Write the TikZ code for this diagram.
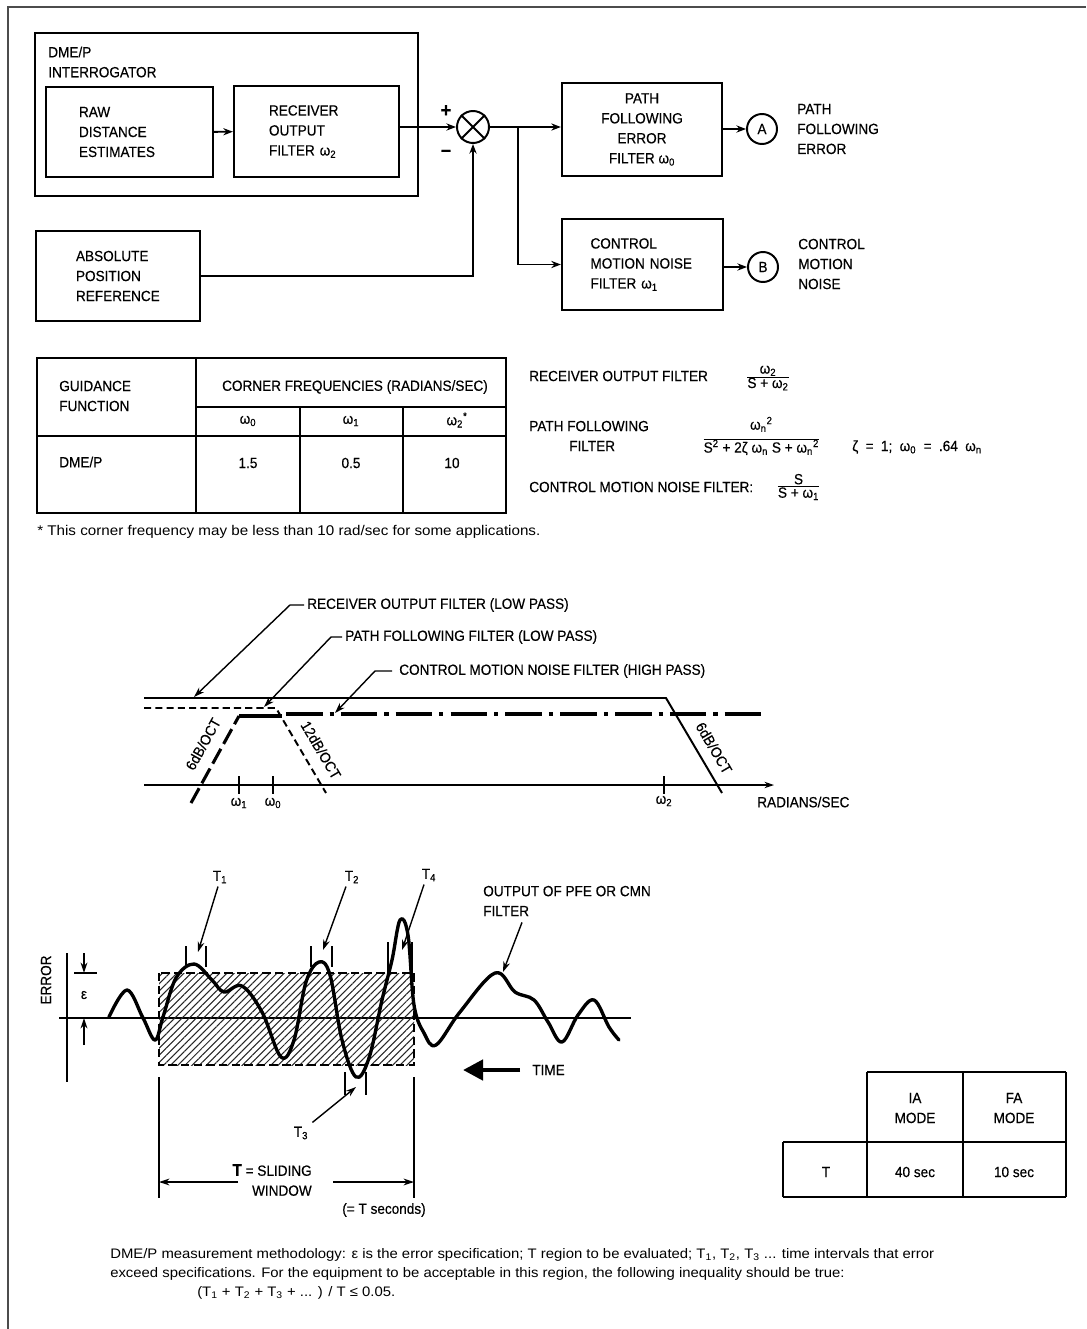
\documentclass[tikz,border=0pt]{standalone}
\usepackage{amsmath,amssymb}
\usepackage{xcolor}
\usepackage{fontspec}
\setmainfont{Liberation Sans}[FakeStretch=0.92,FakeBold=0.4]
\newfontfamily\notefont{Liberation Sans}[FakeStretch=1.08]
\usepackage{tikz}
\usetikzlibrary{arrows.meta,positioning,calc,patterns.meta}
\newlength{\pxu}
\setlength{\pxu}{0.025cm}

\begin{document}
\begin{tikzpicture}[
  x=0.025cm, y=-0.025cm,
  font=\fontsize{10.5}{14.2}\selectfont,
  block/.style={rectangle, draw, line width=1.6pt, inner sep=0pt, align=left},
  tag/.style={circle, draw, line width=1.4pt, minimum size=30\pxu, inner sep=0pt},
  txt/.style={inner sep=0pt, align=left},
  arrow/.style={-{Stealth[length=2.4mm,width=1.8mm]}, line width=1.4pt},
  lead/.style={-{Stealth[length=2.6mm,width=1.7mm]}, line width=1pt},
  grid/.style={line width=1.2pt},
  tick/.style={line width=1.2pt},
  wave/.style={line width=2.4pt, line join=round, line cap=round}
]
\useasboundingbox (0,0) rectangle (1086,1329);
\draw[black!70, line width=0.8pt] (8,1329) -- (8,7) -- (1086,7);

% Block diagram
\node[block, minimum width=383\pxu, minimum height=163\pxu] (dme) at (226.5,114.5) {};
\node[txt, anchor=west] (dmelbl) at (48,62) {DME/P\\INTERROGATOR};
\node[block, minimum width=167\pxu, minimum height=90\pxu, text width=101\pxu] (raw) at (129.5,132) {RAW\\DISTANCE\\ESTIMATES};
\node[block, minimum width=165\pxu, minimum height=91\pxu, text width=95\pxu] (recv) at (316.5,131.5) {RECEIVER\\OUTPUT\\FILTER ω\textsubscript{2}};
\node[block, minimum width=164\pxu, minimum height=90\pxu, text width=84\pxu] (apr) at (118,276) {ABSOLUTE\\POSITION\\REFERENCE};
\node[circle, draw, line width=1.4pt, minimum size=32\pxu, inner sep=0pt] (sum) at (473,127) {};
\draw[line width=1.4pt] (sum.north west) -- (sum.south east) (sum.north east) -- (sum.south west);
\node[txt, font=\bfseries\fontsize{14}{14}\selectfont] (plus) at (446,111) {+};
\node[txt, font=\bfseries\fontsize{14}{14}\selectfont] (minus) at (446,153) {–};
\node[block, align=center, minimum width=160\pxu, minimum height=93\pxu] (pfe) at (642,129.5) {PATH\\FOLLOWING\\ERROR\\FILTER ω\textsubscript{0}};
\node[block, minimum width=161\pxu, minimum height=91\pxu, text width=104\pxu] (cmn) at (642.5,264.5) {CONTROL\\MOTION NOISE\\FILTER ω\textsubscript{1}};
\node[tag] (outA) at (762,129) {A};
\node[tag] (outB) at (763,267) {B};
\node[txt, anchor=west] (pfelbl) at (797,129) {PATH\\FOLLOWING\\ERROR};
\node[txt, anchor=west] (cmnlbl) at (798,264) {CONTROL\\MOTION\\NOISE};

% Arrows
\coordinate (split) at (518,127);
\draw[arrow] (raw) -- (recv);
\draw[arrow] (recv.east |- sum) -- (sum);
\draw[arrow] (sum) -- (sum -| pfe.west);
\draw[arrow] (split) |- (cmn);
\draw[arrow] (apr) -| (sum);
\draw[arrow] (pfe.east |- outA) -- (outA);
\draw[arrow] (cmn.east |- outB) -- (outB);

% Corner frequency table
\draw[grid] (37,358) rectangle (506,513);
\draw[grid] (196,358) -- (196,513) (196,407) -- (506,407) (300,407) -- (300,513) (403,407) -- (403,513);
\draw[line width=1.8pt] (37,436) -- (506,436);
\node[txt, anchor=west] (gf) at (59,396) {GUIDANCE\\FUNCTION};
\node[txt] (cf) at (355,387) {CORNER FREQUENCIES (RADIANS/SEC)};
\node[txt] (w0h) at (248,421) {ω\textsubscript{0}};
\node[txt] (w1h) at (351,421) {ω\textsubscript{1}};
\node[txt] (w2h) at (457,420) {ω\textsubscript{2}\textsuperscript{*}};
\node[txt, anchor=west] (dmep) at (59,462) {DME/P};
\node[txt] (v0) at (248,463) {1.5};
\node[txt] (v1) at (351,463) {0.5};
\node[txt] (v2) at (452,463) {10};
\node[txt, anchor=west, font=\notefont\fontsize{10}{13}\selectfont] (star) at (37,532) {* This corner frequency may be less than 10 rad/sec for some applications.};

% Transfer functions
\node[txt, anchor=west] (rofname) at (529,376) {RECEIVER OUTPUT FILTER};
\node[txt] (roffrac) at (768,378) {$\frac{\mbox{ω\textsubscript{2}}}{\mbox{S + ω\textsubscript{2}}}$};
\node[txt, anchor=west] (pffname) at (529,436) {PATH FOLLOWING\\\hspace*{40\pxu}FILTER};
\node[txt, anchor=east] (pfffrac) at (821,436) {$\frac{\raisebox{5pt}{ω\textsubscript{n}\textsuperscript{2}}}{\raisebox{-3pt}{S\textsuperscript{2} + 2ζ ω\textsubscript{n} S + ω\textsubscript{n}\textsuperscript{2}}}$};
\node[txt, anchor=west] (zeta) at (852,447) {ζ\enspace=\enspace1;\enspace ω\textsubscript{0}\enspace=\enspace.64\enspace ω\textsubscript{n}};
\node[txt, anchor=west] (cmnname) at (529,487) {CONTROL MOTION NOISE FILTER:};
\node[txt, anchor=west] (cmnfrac) at (776,487) {$\frac{\mbox{S}}{\mbox{S + ω\textsubscript{1}}}$};

% Filter responses
\coordinate (ax0) at (144,785);
\coordinate (ax1) at (774,785);
\coordinate (rofpt) at (194,697);
\coordinate (pffpt) at (264,707);
\coordinate (cmnpt) at (335,713);
\draw[line width=1.4pt] (144,698) -- (666,698) -- (722,793);
\draw[line width=1.4pt, dash pattern=on 5pt off 3pt] (144,708) -- (276,708) -- (326,793);
\draw[line width=2.2pt, dash pattern=on 12pt off 4pt] (191,803) -- (239,716);
\draw[line width=2.2pt] (239,716) -- (282,716);
\draw[line width=2.2pt, dash pattern=on 26pt off 5pt on 3pt off 5pt] (286,714) -- (765,714);
\draw[-{Stealth[length=2.4mm,width=1.6mm]}, line width=1pt] (ax0) -- (ax1);
\foreach \tx in {239,273,664}
  \draw[tick] (\tx,776) -- (\tx,794);
\node[txt] (w1a) at (239,803) {ω\textsubscript{1}};
\node[txt] (w0a) at (273,803) {ω\textsubscript{0}};
\node[txt] (w2a) at (664,801) {ω\textsubscript{2}};
\node[txt, anchor=west] (radlbl) at (757,802) {RADIANS/SEC};
\node[txt, rotate=61] (slope1) at (203,744) {6dB/OCT};
\node[txt, rotate=-59.5] (slope2) at (321,750) {12dB/OCT};
\node[txt, rotate=-59.5] (slope3) at (714,748) {6dB/OCT};
\node[txt, anchor=west] (roflbl) at (307,605) {RECEIVER OUTPUT FILTER (LOW PASS)};
\node[txt, anchor=west] (pfflbl) at (345,637) {PATH FOLLOWING FILTER (LOW PASS)};
\node[txt, anchor=west] (cmnlbl2) at (399,671) {CONTROL MOTION NOISE FILTER (HIGH PASS)};
\draw[lead] (roflbl.west) ++(-3,0) -- ++(-14,0) -- (rofpt);
\draw[lead] (pfflbl.west) ++(-3,0) -- ++(-11,0) -- (pffpt);
\draw[lead] (cmnlbl2.west) ++(-7,0) -- ++(-17,0) -- (cmnpt);

% Error measurement
\node[txt, rotate=90] (errlbl) at (46,980) {ERROR};
\draw[line width=1.5pt] (67,953) -- (67,1082);
\draw[line width=1.2pt] (59,1018) -- (631,1018);
\draw[line width=1.2pt] (74,973) -- (97,973);
\coordinate (epstop) at (84,973);
\coordinate (epsbot) at (84,1018);
\draw[lead] (84,953) -- (epstop);
\draw[lead] (84,1045) -- (epsbot);
\node[txt] (eps) at (84,995) {ε};
\fill[pattern={Lines[angle=45,distance=3.6pt,line width=0.75pt]}, pattern color=black!85] (159,973) rectangle (414,1065);
\draw[line width=1.8pt, dash pattern=on 6pt off 3pt] (159,973) rectangle (414,1065);
\draw[wave] plot[smooth, tension=0.6] coordinates {
  (109,1017) (127,990) (143,1018) (155,1040) (163,1017) (176,978) (194,964)
  (212,980) (224,992) (242,986) (262,1012) (281,1057) (294,1040) (306,982)
  (319,962) (330,975) (342,1040) (356,1077) (369,1058) (382,1000) (392,960)
  (400,920) (408,935) (414,1005) (424,1033) (436,1045) (460,1012) (495,973)
  (515,992) (534,1000) (548,1022) (562,1042) (578,1015) (594,1000) (609,1027)
  (619,1040)};
% interval brackets
\draw[tick] (186,946) -- (186,967) (206,946) -- (206,967);
\draw[tick] (311,946) -- (311,967) (332,946) -- (332,967);
\draw[tick] (388,942) -- (388,973) (412,942) -- (412,973);
\draw[tick] (345,1072) -- (345,1095) (366,1072) -- (366,1095);
\coordinate (t1pt) at (198,952);
\coordinate (t2pt) at (323,950);
\coordinate (t4pt) at (402,950);
\coordinate (t3pt) at (356,1087);
\coordinate (pkout) at (503,972);
\node[txt] (t1) at (220,877) {T\textsubscript{1}};
\node[txt] (t2) at (352,877) {T\textsubscript{2}};
\node[txt] (t4) at (429,875) {T\textsubscript{4}};
\node[txt] (t3) at (301,1133) {T\textsubscript{3}};
\draw[lead] (t1.south) ++(-2,3) -- (t1pt);
\draw[lead] (t2.south) ++(-6,3) -- (t2pt);
\draw[lead] (t4.south) ++(-5,3) -- (t4pt);
\draw[lead] (t3.north east) ++(4,-4) -- (t3pt);
\node[txt, anchor=west] (outlbl) at (483,901) {OUTPUT OF PFE OR CMN\\FILTER};
\draw[lead] (outlbl.south west) ++(39,6) -- (pkout);
\node[txt, anchor=west] (time) at (532,1070) {TIME};
\coordinate (timept) at (463,1070);
\draw[-{Triangle[length=5mm,width=5mm]}, line width=3.2pt] (time.west) ++(-12,0) -- (timept);

% Sliding window
\draw[line width=1.2pt] (159,1077) -- (159,1198) (414,1077) -- (414,1198);
\coordinate (wl) at (159,1182);
\coordinate (wr) at (414,1182);
\node[txt, align=right, anchor=east] (winlbl) at (312,1180) {\textbf{\large T} = SLIDING\\WINDOW};
\draw[lead] (winlbl.west |- wl) ++(6,0) -- (wl);
\draw[lead] (winlbl.east |- wr) ++(21,0) -- (wr);
\node[txt] (secs) at (384,1210) {(= T seconds)};

% Window length table
\draw[grid] (867,1072) -- (1066,1072) (783,1142) -- (1066,1142) (783,1197) -- (1066,1197);
\draw[grid] (783,1142) -- (783,1197) (867,1072) -- (867,1197) (963,1072) -- (963,1197) (1066,1072) -- (1066,1197);
\node[txt, align=center] (iah) at (915,1108) {IA\\MODE};
\node[txt, align=center] (fah) at (1014,1108) {FA\\MODE};
\node[txt] (trow) at (826,1172) {T};
\node[txt] (ia) at (915,1172) {40 sec};
\node[txt] (fa) at (1014,1172) {10 sec};

% Methodology note
\node[txt, anchor=north west, font=\notefont\fontsize{9.8}{13.5}\selectfont] (note) at (110,1248) {DME/P measurement methodology: ε is the error specification; T region to be evaluated; T\textsubscript{1}, T\textsubscript{2}, T\textsubscript{3} ... time intervals that error\\exceed specifications. For the equipment to be acceptable in this region, the following inequality should be true:\\\hspace*{87\pxu}(T\textsubscript{1} + T\textsubscript{2} + T\textsubscript{3} + ... ) / T ≤ 0.05.};

\end{tikzpicture}
\end{document}
